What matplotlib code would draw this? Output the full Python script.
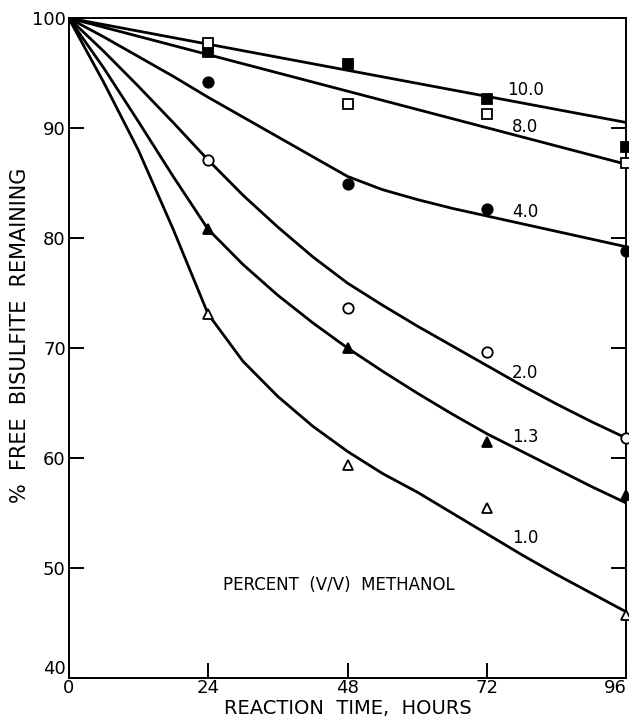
import matplotlib
matplotlib.use("Agg")
from matplotlib import pyplot as plt

# measured points, % free bisulfite remaining
hours = [24, 48, 72, 96]
meoh_100 = [96.9, 95.8, 92.6, 88.3]
meoh_80 = [97.7, 92.2, 91.3, 86.8]
meoh_40 = [94.2, 84.9, 82.6, 78.8]
meoh_20 = [87.1, 73.6, 69.6, 61.8]
meoh_13 = [80.8, 70.0, 61.5, 56.6]
meoh_10 = [73.1, 59.4, 55.5, 45.7]

# hand drawn curves through the data
line_hours = [0, 96]
fit_100 = [100, 90.5]
fit_80 = [100, 86.7]
curve_hours = [0, 6, 12, 18, 24, 30, 36, 42, 48, 54, 60, 66, 72, 78, 84, 90, 96]
fit_40 = [100, 98.3, 96.5, 94.7, 92.8, 91.0, 89.2, 87.4, 85.6, 84.4, 83.5, 82.7, 82.0, 81.3, 80.6, 79.9, 79.2]
fit_20 = [100, 97.0, 93.8, 90.5, 87.1, 83.9, 81.0, 78.3, 75.9, 73.9, 72.0, 70.2, 68.4, 66.6, 64.9, 63.3, 61.8]
fit_13 = [100, 95.5, 90.6, 85.6, 80.8, 77.6, 74.8, 72.3, 70.0, 67.9, 65.9, 64.0, 62.2, 60.6, 59.0, 57.4, 55.9]
fit_10 = [100, 94.2, 88.0, 80.8, 73.1, 68.8, 65.6, 62.9, 60.6, 58.6, 56.9, 55.0, 53.1, 51.2, 49.4, 47.7, 46.0]

labels = ["10.0", "8.0", "4.0", "2.0", "1.3", "1.0"]
label_y = [93.5, 90.1, 82.4, 67.7, 61.9, 52.7]

fig = plt.figure(figsize=(6.29, 7.21), dpi=100)
ax = fig.add_axes([0.109, 0.0596, 0.887, 0.9154])

lw = 2.0
ax.plot(line_hours, fit_100, "k-", lw=lw)
ax.plot(line_hours, fit_80, "k-", lw=lw)
ax.plot(curve_hours, fit_40, "k-", lw=lw)
ax.plot(curve_hours, fit_20, "k-", lw=lw)
ax.plot(curve_hours, fit_13, "k-", lw=lw)
ax.plot(curve_hours, fit_10, "k-", lw=lw)

mk = dict(linestyle="none", clip_on=False, markeredgecolor="k", markeredgewidth=1.3, zorder=3)
ax.plot(hours, meoh_100, marker="s", markersize=6.5, markerfacecolor="k", **mk)
ax.plot(hours, meoh_80, marker="s", markersize=6.5, markerfacecolor="white", **mk)
ax.plot(hours, meoh_40, marker="o", markersize=7.5, markerfacecolor="k", **mk)
ax.plot(hours, meoh_20, marker="o", markersize=7.5, markerfacecolor="white", **mk)
ax.plot(hours, meoh_13, marker="^", markersize=7.5, markerfacecolor="k", **mk)
ax.plot(hours, meoh_10, marker="^", markersize=7.5, markerfacecolor="white", **mk)

for lab, yy in zip(labels, label_y):
    ax.text(78.6, yy, lab, fontsize=12, ha="center", va="center")

ax.text(26.6, 48.5, "PERCENT  (V/V)  METHANOL", fontsize=12, ha="left", va="center")

ax.set_xlim(0, 96)
ax.set_ylim(40, 100)
ax.set_xticks([0, 24, 48, 72, 96])
ax.set_yticks([40, 50, 60, 70, 80, 90, 100])
ax.tick_params(direction="in", length=11, width=1.4, labelsize=13, pad=2,
               right=True, top=False)
ax.tick_params(axis="x", pad=1)
for s in ax.spines.values():
    s.set_linewidth(1.4)

# the 96 label sits left of the corner, 40 sits above the x axis
ax.get_xticklabels()[-1].set_horizontalalignment("right")
ax.get_yticklabels()[0].set_verticalalignment("bottom")

ax.set_xlabel("REACTION  TIME,  HOURS", fontsize=14, labelpad=1)
ax.set_ylabel("%  FREE  BISULFITE  REMAINING", fontsize=15)
ax.yaxis.set_label_coords(-0.07, 0.52)

fig.savefig("out.png", dpi=100)
